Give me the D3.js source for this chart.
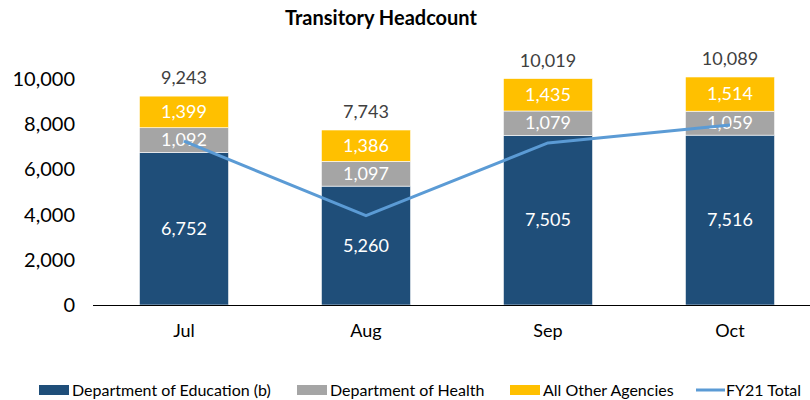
<!DOCTYPE html>
<html><head><meta charset="utf-8">
<script src="https://cdn.jsdelivr.net/npm/d3@7"></script>
<style>body{margin:0;background:#fff}svg{display:block;font-family:Lato,"Open Sans",sans-serif}</style>
</head><body><svg id="c" width="810" height="400"></svg>
<script>
const categories = ["Jul","Aug","Sep","Oct"];
const education = [6752,5260,7505,7516];
const health = [1092,1097,1079,1059];
const otherAgencies = [1399,1386,1435,1514];
const totals = [9243,7743,10019,10089];
const fy21Total = [7250,3950,7170,7960];
const yTicks = [0,2000,4000,6000,8000,10000];
const seriesNames = ["Department of Education (b)","Department of Health","All Other Agencies","FY21 Total"];
const colors = ["#1F4E79","#A5A5A5","#FFC000","#5B9BD5"];

const svg = d3.select("#c");
const x = d3.scaleBand().domain(categories).range([93,821]).paddingInner(0.51).paddingOuter(0.255);
const y = d3.scaleLinear().domain([0,10000]).range([305,79]);
const fmt = d3.format(",");

svg.append("text").attr("x",381).attr("y",18).attr("dy","0.35em").attr("text-anchor","middle")
  .attr("font-weight","bold").attr("font-size",20).text("Transitory Headcount");

// y axis labels
svg.append("g").selectAll("text").data(yTicks).join("text")
  .attr("x",75).attr("y",d=>y(d)).attr("dy","0.35em").attr("text-anchor","end")
  .attr("font-size",20).attr("fill","#000").text(d=>fmt(d));

const rows = categories.map((c,i)=>({cat:c,education:education[i],health:health[i],other:otherAgencies[i]}));
const stack = d3.stack().keys(["education","health","other"])(rows);
stack.forEach((s,si)=>{
  const g = svg.append("g");
  g.selectAll("rect").data(s).join("rect")
    .attr("x",d=>x(d.data.cat)).attr("width",x.bandwidth())
    .attr("y",d=>y(d[1])).attr("height",d=>y(d[0])-y(d[1]))
    .attr("fill",colors[si]).attr("stroke","#fff").attr("stroke-width",0.6);
  g.selectAll("text").data(s).join("text")
    .attr("x",d=>x(d.data.cat)+x.bandwidth()/2).attr("y",d=>(y(d[0])+y(d[1]))/2)
    .attr("dy","0.35em").attr("text-anchor","middle").attr("font-size",18)
    .attr("fill","#fff").text(d=>fmt(d[1]-d[0]));
});

// axis line
svg.append("line").attr("x1",93).attr("x2",810).attr("y1",305.5).attr("y2",305.5)
  .attr("stroke","#000").attr("stroke-width",1);

// line
const line = d3.line().x((d,i)=>x(categories[i])+x.bandwidth()/2).y(d=>y(d));
svg.append("path").datum(fy21Total).attr("d",line).attr("fill","none")
  .attr("stroke",colors[3]).attr("stroke-width",3).attr("stroke-linejoin","round");

// totals
svg.append("g").selectAll("text").data(totals).join("text")
  .attr("x",(d,i)=>x(categories[i])+x.bandwidth()/2).attr("y",d=>y(d)-18)
  .attr("dy","0.35em").attr("text-anchor","middle").attr("font-size",18).attr("fill","#404040")
  .text(d=>fmt(d));

// category labels
svg.append("g").selectAll("text").data(categories).join("text")
  .attr("x",d=>x(d)+x.bandwidth()/2).attr("y",331).attr("dy","0.35em")
  .attr("text-anchor","middle").attr("font-size",18).attr("fill","#000").text(d=>d);

// legend
const legX = [39,297,510,696];
const lg = svg.append("g");
seriesNames.forEach((n,i)=>{
  if(i<3){
    lg.append("rect").attr("x",legX[i]).attr("y",385).attr("width",30).attr("height",10).attr("fill",colors[i]);
  } else {
    lg.append("line").attr("x1",legX[i]).attr("x2",legX[i]+29).attr("y1",390).attr("y2",390)
      .attr("stroke",colors[i]).attr("stroke-width",3);
  }
  lg.append("text").attr("x",legX[i]+(i<3?33:30)).attr("y",390).attr("dy","0.35em")
    .attr("font-size",16).attr("fill","#000").text(n);
});
</script></body></html>
